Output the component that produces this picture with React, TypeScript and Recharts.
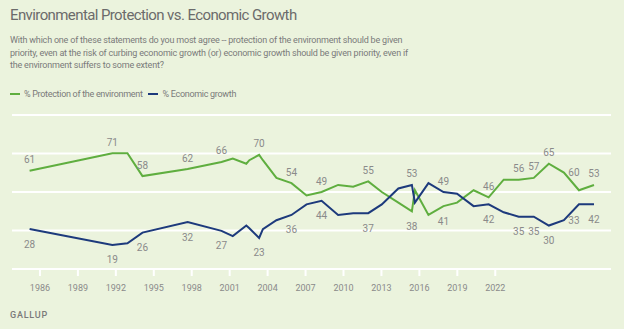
import { LineChart, Line, XAxis, YAxis, CartesianGrid, Legend, LabelList } from "recharts"

// poll dates (some years have two polls)
const years = [
  1984.5, 1990, 1991, 1992, 1995, 1997.25, 1998, 1998.9, 1999.1, 1999.75, 2000, 2000.9, 2001.9, 2002.9,
  2003.9, 2005, 2006, 2007, 2007.9, 2009, 2009.9, 2010.1, 2011, 2012, 2012.9, 2014, 2015, 2016, 2017,
  2018, 2019, 2020, 2021, 2022,
]
const environment = [
  61, 71, 71, 58, 62, 66, 68, 65, 67, 70, 67, 57, 54, 47, 49, 53, 52, 55, 49, 43, 38, 50, 36, 41, 43,
  50, 46, 56, 56, 57, 65, 60, 50, 53,
]
const economy = [
  28, 19, 20, 26, 32, 27, 24, 30, 28.5, 23, 28, 33, 36, 42, 44, 36, 37, 37, 42, 51, 53, 43, 54, 49, 48,
  41, 42, 37.5, 35, 35, 30, 33, 42, 42,
]
const labeledYears = [
  1984.5, 1990, 1992, 1995, 1997.25, 1999.75, 2001.9, 2003.9, 2007, 2009.9, 2012, 2015, 2017, 2018, 2019,
  2020, 2022,
]
const tickYears = [1986, 1989, 1992, 1995, 1998, 2001, 2004, 2007, 2010, 2013, 2016, 2019, 2022]
const gridValues = [5.4, 27.2, 49, 70.8, 92.6]

const data = years.map((year, i) => ({ year, env: environment[i], eco: economy[i] }))

const GREEN = "#5fae3f"
const BLUE = "#1d3a7c"
const TEXT = "#7a7a7a"
const FONT = "Roboto, sans-serif"
const SIDE_LABEL_YEAR = 2020

const makeLabel = (own: number[], other: number[]) => (props: any) => {
  const { x, y, index } = props
  const year = years[index]
  if (!labeledYears.includes(year)) return null
  const above = own[index] > other[index]
  let dx = 0
  let dy = above ? -11 : 15
  if (year === SIDE_LABEL_YEAR) {
    dx = 10
    dy = 0
  }
  return (
    <text
      x={x + dx}
      y={y + dy}
      textAnchor="middle"
      dominantBaseline="central"
      fill="#8a8a8a"
      fontSize={10}
      fontFamily={FONT}
    >
      {Math.round(own[index])}
    </text>
  )
}

const LegendContent = () => (
  <div style={{ display: "flex", alignItems: "center", fontFamily: FONT, fontSize: 9, letterSpacing: -0.3, color: TEXT, whiteSpace: "nowrap" }}>
    <span style={{ width: 10, height: 2.5, background: GREEN, marginRight: 4 }} />
    <span style={{ marginRight: 5 }}>% Protection of the environment</span>
    <span style={{ width: 10, height: 2.5, background: BLUE, marginRight: 5 }} />
    <span>% Economic growth</span>
  </div>
)

export default function App() {
  return (
    <div style={{ position: "absolute", top: 0, left: 0, width: 624, height: 329, background: "#ebf3dd", overflow: "hidden" }}>
      <div style={{ position: "absolute", left: 10, top: 6, fontFamily: FONT, fontSize: 15, color: "#6b6b6b", letterSpacing: -0.6, whiteSpace: "nowrap" }}>
        Environmental Protection vs. Economic Growth
      </div>
      <div style={{ position: "absolute", left: 10, top: 34, fontFamily: FONT, fontSize: 9, lineHeight: "12.7px", color: TEXT, letterSpacing: -0.2, whiteSpace: "nowrap" }}>
        With which one of these statements do you most agree -- protection of the environment should be given
        <br />
        priority, even at the risk of curbing economic growth (or) economic growth should be given priority, even if
        <br />
        the environment suffers to some extent?
      </div>
      <LineChart width={624} height={329} data={data} margin={{ top: 115, right: 13, bottom: 30, left: 12 }}>
        <CartesianGrid vertical={false} stroke="#ffffff" strokeWidth={2} />
        <XAxis dataKey="year" type="number" domain={[1983.33, 2023.13]} allowDataOverflow height={0} hide />
        <XAxis
          xAxisId="yr"
          dataKey="year"
          type="number"
          domain={[1983.79, 2031.15]}
          allowDataOverflow
          ticks={tickYears}
          interval={0}
          height={30}
          tickSize={7}
          tickMargin={9}
          tick={{ fill: "#8a8a8a", fontSize: 9, fontFamily: FONT }}
          tickLine={{ stroke: "#ffffff", strokeWidth: 2 }}
          axisLine={{ stroke: "#ffffff", strokeWidth: 2 }}
        />
        <YAxis type="number" domain={[5.4, 92.6]} ticks={gridValues} allowDataOverflow hide />
        <Legend
          layout="horizontal"
          verticalAlign="middle"
          align="center"
          content={<LegendContent />}
          wrapperStyle={{ top: 89, left: 10, width: "auto" }}
        />
        <Line type="linear" dataKey="env" name="% Protection of the environment" stroke={GREEN} strokeWidth={2} dot={false} isAnimationActive={false}>
          <LabelList dataKey="env" content={makeLabel(environment, economy)} />
        </Line>
        <Line type="linear" dataKey="eco" name="% Economic growth" stroke={BLUE} strokeWidth={2} dot={false} isAnimationActive={false}>
          <LabelList dataKey="eco" content={makeLabel(economy, environment)} />
        </Line>
      </LineChart>
      <div style={{ position: "absolute", left: 10, top: 310, fontFamily: FONT, fontSize: 9, fontWeight: 500, letterSpacing: 0.8, color: TEXT }}>
        GALLUP
      </div>
    </div>
  )
}
